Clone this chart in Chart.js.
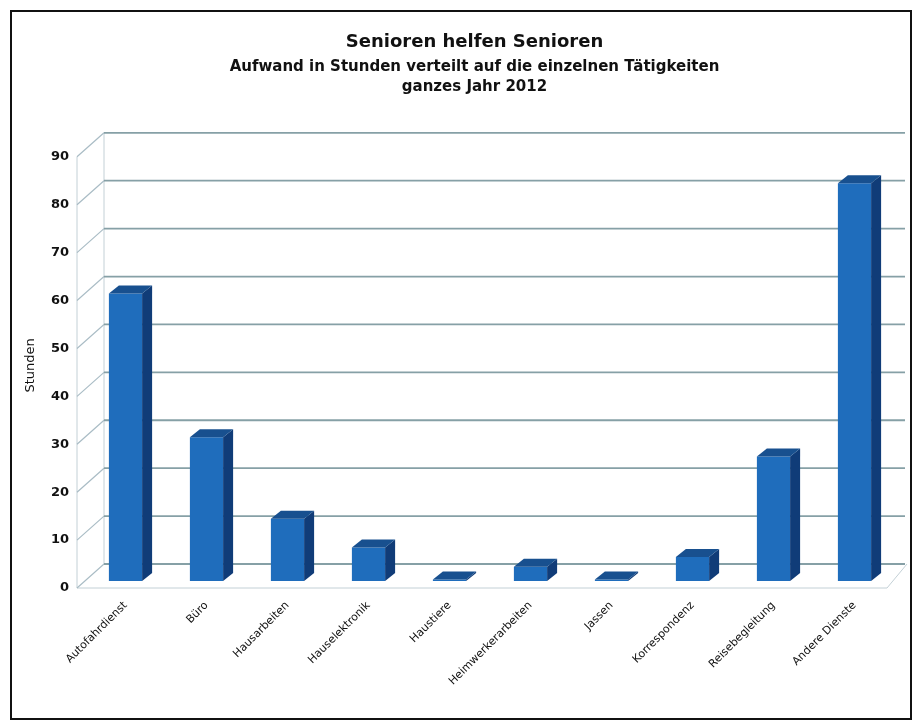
<!DOCTYPE html>
<html>
<head>
<meta charset="utf-8">
<script src="https://cdn.jsdelivr.net/npm/chart.js@4.4.0/dist/chart.umd.min.js"></script>
<style>
  html, body { margin: 0; padding: 0; background: #fff; }
  #frame {
    position: absolute; left: 10px; top: 10px;
    width: 898px; height: 706px;
    border: 2px solid #111;
  }
</style>
</head>
<body>
<div id="frame">
  <canvas id="myChart" width="898" height="706"></canvas>
</div>
<script>
// categories and values (hours in 2012)
var categories = ["Autofahrdienst", "Büro", "Hausarbeiten", "Hauselektronik", "Haustiere",
                  "Heimwerkerarbeiten", "Jassen", "Korrespondenz", "Reisebegleitung", "Andere Dienste"];
var hours = [60, 30, 13, 7, 0.3, 3, 0.3, 5, 26, 83];
var yTicks = [0, 10, 20, 30, 40, 50, 60, 70, 80, 90];

var titleText = "Senioren helfen Senioren";
var subtitleText = ["Aufwand in Stunden verteilt auf die einzelnen Tätigkeiten", "ganzes Jahr 2012"];
var yTitle = "Stunden";

// fake 3D depth, px
var BAR_DX = 10, BAR_DY = 8;
var FRONT_DX = 8, FRONT_DY = 7;
var BACK_DX = 19, BACK_DY = 17;
var TITLE_SHIFT = 21;

var walls = {
    id: 'walls',
    afterLayout: function (chart) {
        // titles sit a bit right of centre in the original
        chart.boxes.forEach(function (b) {
            if (b.position === 'top' && b.fullSize) {
                b.left += TITLE_SHIFT;
                b.right += TITLE_SHIFT;
            }
        });
    },
    beforeDatasetsDraw: function (chart) {
        var ctx = chart.ctx, a = chart.chartArea, y = chart.scales.y;
        ctx.save();
        var y0 = y.getPixelForValue(0), yTop = y.getPixelForValue(90);
        // left wall edges
        ctx.strokeStyle = '#c3d0d6';
        ctx.lineWidth = 1;
        ctx.beginPath();
        ctx.moveTo(a.left - FRONT_DX, y0 + FRONT_DY);
        ctx.lineTo(a.left - FRONT_DX, yTop + FRONT_DY);
        ctx.stroke();
        ctx.beginPath();
        ctx.moveTo(a.left + BACK_DX, y0 - BACK_DY);
        ctx.lineTo(a.left + BACK_DX, yTop - BACK_DY);
        ctx.stroke();
        // floor front + right edge
        ctx.beginPath();
        ctx.moveTo(a.left - FRONT_DX, y0 + FRONT_DY);
        ctx.lineTo(a.right - FRONT_DX, y0 + FRONT_DY);
        ctx.lineTo(a.right + 12, y0 - BACK_DY);
        ctx.stroke();
        y.ticks.forEach(function (t) {
            var py = y.getPixelForValue(t.value);
            ctx.strokeStyle = '#a9bcc5';
            ctx.lineWidth = 1.2;
            ctx.beginPath();
            ctx.moveTo(a.left - FRONT_DX, py + FRONT_DY);
            ctx.lineTo(a.left + BACK_DX, py - BACK_DY);
            ctx.stroke();
            ctx.strokeStyle = '#86a0a6';
            ctx.lineWidth = 1.8;
            ctx.beginPath();
            ctx.moveTo(a.left + BACK_DX, py - BACK_DY);
            ctx.lineTo(a.right + 10, py - BACK_DY);
            ctx.stroke();
        });
        ctx.restore();
    },
    afterDatasetsDraw: function (chart) {
        var ctx = chart.ctx;
        ctx.save();
        chart.getDatasetMeta(0).data.forEach(function (bar) {
            var p = bar.getProps(['x', 'y', 'base', 'width'], true);
            var l = p.x - p.width / 2, r = p.x + p.width / 2;
            ctx.fillStyle = '#103c78';
            ctx.beginPath();
            ctx.moveTo(r, p.y);
            ctx.lineTo(r + BAR_DX, p.y - BAR_DY);
            ctx.lineTo(r + BAR_DX, p.base - BAR_DY);
            ctx.lineTo(r, p.base);
            ctx.closePath();
            ctx.fill();
            ctx.fillStyle = '#18508f';
            ctx.beginPath();
            ctx.moveTo(l, p.y);
            ctx.lineTo(l + BAR_DX, p.y - BAR_DY);
            ctx.lineTo(r + BAR_DX, p.y - BAR_DY);
            ctx.lineTo(r, p.y);
            ctx.closePath();
            ctx.fill();
        });
        ctx.restore();
    }
};

var ctx = document.getElementById("myChart").getContext("2d");
var chart = new Chart(ctx, {
    type: 'bar',
    data: {
        labels: categories,
        datasets: [{
            data: hours,
            backgroundColor: '#1f6dbc',
            borderWidth: 0,
            barPercentage: 0.41,
            categoryPercentage: 1
        }]
    },
    plugins: [walls],
    options: {
        responsive: false,
        animation: false,
        layout: { padding: { left: 0, right: 15, top: 0, bottom: 0 } },
        plugins: {
            legend: { display: false },
            tooltip: { enabled: false },
            title: {
                display: true,
                text: titleText,
                color: '#111',
                font: { family: 'DejaVu Sans', size: 18, weight: 'bold' },
                padding: { top: 20, bottom: 3 }
            },
            subtitle: {
                display: true,
                text: subtitleText,
                color: '#111',
                font: { family: 'DejaVu Sans', size: 15, weight: 'bold', lineHeight: 1.34 },
                padding: { top: 0, bottom: 53 }
            }
        },
        scales: {
            x: {
                grid: { display: false, drawTicks: false },
                border: { display: false },
                afterFit: function (s) { s.height = 137; },
                ticks: {
                    autoSkip: false,
                    minRotation: 45,
                    maxRotation: 45,
                    padding: 18,
                    color: '#111',
                    font: { family: 'DejaVu Sans', size: 11 }
                }
            },
            y: {
                min: 0,
                max: 90,
                afterFit: function (s) { s.width = 73; },
                grid: { display: false, drawTicks: false },
                border: { display: false },
                ticks: {
                    stepSize: 10,
                    padding: 16,
                    labelOffset: 7,
                    color: '#111',
                    font: { family: 'DejaVu Sans', size: 13, weight: 'bold' },
                    callback: function (v) { return yTicks.indexOf(v) >= 0 ? String(v) : ''; }
                },
                title: {
                    display: true,
                    text: yTitle,
                    color: '#111',
                    padding: { top: 11, bottom: 0 },
                    font: { family: 'DejaVu Sans', size: 13 }
                }
            }
        }
    }
});
</script>
</body>
</html>
